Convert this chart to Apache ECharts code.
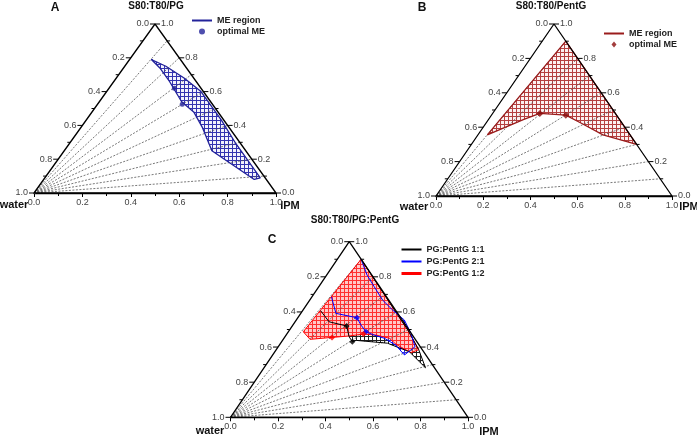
<!DOCTYPE html>
<html>
<head>
<meta charset="utf-8">
<script src="https://cdn.jsdelivr.net/npm/echarts@6/dist/echarts.min.js"></script>
<style>
  html, body { margin: 0; padding: 0; background: #fff; }
  #chart { width: 697px; height: 436px; }
</style>
</head>
<body>
<div id="chart"></div>
<script>
// every composition is [IPM fraction, surfactant mix fraction]; water = 1 - both
const tickValues = [0.0, 0.1, 0.2, 0.3, 0.4, 0.5, 0.6, 0.7, 0.8, 0.9, 1.0];
const dilutionRatios = [0.1, 0.2, 0.3, 0.4, 0.5, 0.6, 0.7, 0.8, 0.9];
const corners = [[0, 0], [1, 0], [0, 1], [0, 0]];

// A: S80:T80/PG
const regionA = [
  [0.09, 0.79], [0.17, 0.75], [0.28, 0.68], [0.39, 0.60], [0.56, 0.43], [0.69, 0.29], [0.89, 0.09],
  [0.87, 0.08], [0.61, 0.25], [0.50, 0.39], [0.42, 0.48], [0.34, 0.54], [0.23, 0.66], [0.15, 0.74]
];
const optimalA = [[0.27, 0.62], [0.35, 0.525]];

// B: S80:T80/PentG
const regionB = [
  [0.10, 0.90], [0.70, 0.30], [0.53, 0.355], [0.41, 0.42], [0.315, 0.47], [0.20, 0.48], [0.15, 0.445], [0.04, 0.355]
];
const optimalB = [[0.20, 0.48], [0.315, 0.47]];

// C: S80:T80/PG:PentG
const regionC11 = [
  [0.076, 0.607], [0.143, 0.544], [0.229, 0.52], [0.27, 0.459], [0.298, 0.43], [0.31, 0.438], [0.45, 0.422],
  [0.49, 0.405], [0.567, 0.373], [0.68, 0.282], [0.60, 0.385], [0.50, 0.495], [0.43, 0.565], [0.10, 0.90]
];
const optimalC11 = [[0.229, 0.52], [0.298, 0.43]];
const regionC21 = [
  [0.082, 0.686], [0.148, 0.592], [0.249, 0.567], [0.287, 0.525], [0.327, 0.487], [0.371, 0.468], [0.423, 0.45],
  [0.49, 0.411], [0.555, 0.355], [0.576, 0.402], [0.521, 0.478], [0.455, 0.554], [0.377, 0.611], [0.306, 0.668],
  [0.234, 0.743], [0.17, 0.81], [0.10, 0.90]
];
const optimalC21 = [[0.249, 0.567], [0.327, 0.487]];
const regionC12 = [
  [0.10, 0.90], [0.50, 0.495], [0.60, 0.385], [0.576, 0.368], [0.49, 0.415], [0.444, 0.45], [0.38, 0.468],
  [0.323, 0.474], [0.268, 0.463], [0.20, 0.455], [0.113, 0.444], [0.063, 0.487]
];
const optimalC12 = [[0.20, 0.455], [0.323, 0.474]];

const FONT = '"Liberation Sans", Arial, sans-serif';
const DIAMOND = 'path://M5,0L10,6L5,12L0,6Z';
const toXY = p => [p[0] + p[1] / 2, p[1]];
const closed = pts => pts.concat([pts[0]]);

function hatch(color, bg) {
  const c = document.createElement('canvas');
  c.width = c.height = 4;
  const ctx = c.getContext('2d');
  if (bg) { ctx.fillStyle = bg; ctx.fillRect(0, 0, 4, 4); }
  ctx.fillStyle = color;
  ctx.fillRect(0, 0, 4, 1);
  ctx.fillRect(0, 1, 1, 3);
  return { image: c, repeat: 'repeat' };
}

const grids = [
  { left: 34, top: 24, width: 242, height: 169 },
  { left: 436, top: 24, width: 236, height: 172 },
  { left: 230.5, top: 241.7, width: 237.5, height: 175.6 }
];

function frameSeries(g) {
  const axes = { xAxisIndex: g, yAxisIndex: g, silent: true };
  return [
    {
      ...axes, type: 'custom', z: 5,
      data: dilutionRatios.map(r => [0, 0, ...toXY([1 - r, r])]),
      renderItem: (params, api) => {
        const a = api.coord([api.value(0), api.value(1)]);
        const b = api.coord([api.value(2), api.value(3)]);
        return { type: 'line', shape: { x1: a[0], y1: a[1], x2: b[0], y2: b[1] },
          style: { stroke: '#555', lineWidth: 0.8, lineDash: [2, 1.5] } };
      }
    },
    {
      ...axes, type: 'line', z: 8, symbol: 'none',
      data: corners.map(toXY),
      lineStyle: { color: '#000', width: 1.3 }
    },
    {
      // left edge: water fraction
      ...axes, type: 'custom', z: 8,
      data: tickValues.map(w => [...toXY([0, 1 - w]), w]),
      renderItem: (params, api) => edgeTick(api, -1)
    },
    {
      // right edge: surfactant fraction
      ...axes, type: 'custom', z: 8,
      data: tickValues.map(s => [...toXY([1 - s, s]), s]),
      renderItem: (params, api) => edgeTick(api, 1)
    }
  ];
}

function edgeTick(api, dir) {
  const p = api.coord([api.value(0), api.value(1)]);
  const v = api.value(2);
  const major = Math.round(v * 10) % 2 === 0;
  const children = [{
    type: 'line',
    shape: { x1: p[0], y1: p[1], x2: p[0] + dir * (major ? 5 : 3), y2: p[1] },
    style: { stroke: '#000', lineWidth: 1 }
  }];
  if (major) {
    children.push({
      type: 'text', x: p[0] + dir * 6, y: p[1],
      style: { text: v.toFixed(1), align: dir < 0 ? 'right' : 'left', verticalAlign: 'middle',
        font: '9px ' + FONT, fill: '#444' }
    });
  }
  return { type: 'group', children };
}

function fillSeries(g, pts, pattern, z) {
  const xy = pts.map(toXY);
  return {
    type: 'custom', xAxisIndex: g, yAxisIndex: g, z, silent: true,
    data: xy,
    renderItem: (params, api) => {
      if (params.dataIndexInside !== 0) return null;
      return { type: 'polygon', shape: { points: xy.map(p => api.coord(p)) }, style: { fill: pattern } };
    }
  };
}

function outlineSeries(g, name, pts, color, width) {
  return {
    name, type: 'line', xAxisIndex: g, yAxisIndex: g, z: 6, symbol: 'none',
    data: pts.map(toXY),
    lineStyle: { color, width },
    itemStyle: { color }
  };
}

function dotSeries(g, name, pts, color, symbol, size) {
  return {
    name, type: 'scatter', xAxisIndex: g, yAxisIndex: g, z: 7, symbol, symbolSize: size,
    data: pts.map(toXY),
    itemStyle: { color }
  };
}

const navy = '#23239a', wine = '#9a1c1c';

const series = [
  ...frameSeries(0), ...frameSeries(1), ...frameSeries(2),
  fillSeries(0, regionA, hatch('#3434b0', 'rgba(235,235,250,0.6)'), 2),
  outlineSeries(0, 'A|ME region', closed(regionA), navy, 1.3),
  dotSeries(0, 'A|optimal ME', optimalA, navy, 'circle', 5),
  fillSeries(1, regionB, hatch('#b54040', 'rgba(250,232,232,0.6)'), 2),
  outlineSeries(1, 'B|ME region', closed(regionB), wine, 1.3),
  dotSeries(1, 'B|optimal ME', optimalB, '#8b0d0d', 'diamond', 7),
  fillSeries(2, regionC11, hatch('#222', '#fff'), 2),
  fillSeries(2, regionC21, hatch('#2a2aff', '#fff'), 3),
  fillSeries(2, regionC12, hatch('#ff3030', '#ffc8c8'), 4),
  outlineSeries(2, 'C|PG:PentG 1:2', closed(regionC12), '#ff0000', 1),
  outlineSeries(2, 'C|PG:PentG 1:1', regionC11, '#000', 1),
  outlineSeries(2, 'C|PG:PentG 2:1', regionC21, '#0000ff', 1),
  dotSeries(2, 'C11 optimal', optimalC11, '#000', 'diamond', 6),
  dotSeries(2, 'C21 optimal', optimalC21, '#0000ff', 'diamond', 6),
  dotSeries(2, 'C12 optimal', optimalC12, '#ff0000', 'diamond', 6)
];

const xAxis = grids.map((g, i) => ({
  gridIndex: i, type: 'value', min: 0, max: 1, interval: 0.2,
  axisLine: { lineStyle: { color: '#000', width: 1.3 } },
  axisTick: { length: 4, lineStyle: { color: '#000' } },
  minorTick: { show: true, splitNumber: 2, length: 3, lineStyle: { color: '#000' } },
  splitLine: { show: false },
  axisLabel: { margin: 5, fontSize: 9, fontFamily: FONT, color: '#444', formatter: v => v.toFixed(1) }
}));
const yAxis = grids.map((g, i) => ({ gridIndex: i, type: 'value', min: 0, max: 1, show: false }));

const legendBase = {
  orient: 'vertical', padding: 0, itemWidth: 20, itemHeight: 6, itemGap: 2, symbolKeepAspect: true,
  formatter: n => n.split('|')[1],
  textStyle: { fontSize: 9, fontWeight: 'bold', fontFamily: FONT, color: '#222' }
};
const lineItem = (name, width) => ({ name, itemStyle: { opacity: 0 }, lineStyle: width ? { width } : undefined });

const txt = (x, y, text, size, align) => ({
  type: 'text', x, y,
  style: { text, font: 'bold ' + size + 'px ' + FONT, fill: '#111', align: align || 'center', verticalAlign: 'middle' }
});

const chart = echarts.init(document.getElementById('chart'));
chart.setOption({
  animation: false,
  grid: grids.map(g => ({ ...g, containLabel: false })),
  xAxis, yAxis,
  legend: [
    { ...legendBase, left: 191, top: 16, data: [lineItem('A|ME region'), { name: 'A|optimal ME', icon: 'circle' }] },
    { ...legendBase, left: 603, top: 29, data: [lineItem('B|ME region'), { name: 'B|optimal ME', icon: DIAMOND }] },
    { ...legendBase, left: 400, top: 245, itemGap: 3,
      data: [lineItem('C|PG:PentG 1:1'), lineItem('C|PG:PentG 2:1'), lineItem('C|PG:PentG 1:2', 3)] }
  ],
  graphic: [
    txt(55, 8, 'A', 12), txt(156, 6, 'S80:T80/PG', 10),
    txt(422, 8, 'B', 12), txt(551, 6, 'S80:T80/PentG', 10),
    txt(272, 240, 'C', 12), txt(355, 220, 'S80:T80/PG:PentG', 10),
    txt(14, 205, 'water', 11), txt(290, 206, 'IPM', 11),
    txt(414, 207, 'water', 11), txt(689, 207, 'IPM', 11),
    txt(210, 431, 'water', 11), txt(489, 432, 'IPM', 11)
  ],
  series
});
</script>
</body>
</html>
